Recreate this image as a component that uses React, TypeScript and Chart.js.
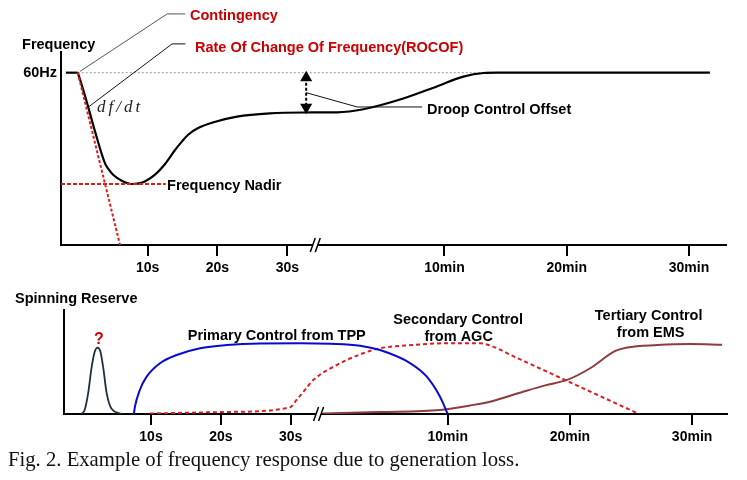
import React, { useEffect, useRef } from 'react';
import { Chart, registerables } from 'chart.js';

Chart.register(...registerables);

const SANS = '"Liberation Sans", Arial, Helvetica, sans-serif';

// shared time axis: seconds left of the break, compressed minutes right of it
const tickValues = [10, 20, 30, 52.5, 70, 87.5];
const tickLabels = ['10s', '20s', '30s', '10min', '20min', '30min'];
const breakAt = [34];

// ---- top panel: frequency (Hz) ----
const preX = [-1.7, 0];
const preY = [60, 60];
const freqX = [0, 0.6, 1.5, 2.5, 3.9, 4.4, 5.1, 6.3, 7.7, 9.2, 11.1, 12.5, 13.9, 14.9, 15.8, 17.3, 19.7, 22.8, 27.5, 32.3, 37.1, 40.9, 46.6, 51.4, 55.2, 58.1, 60, 90.5];
const freqY = [60, 59.925, 59.8, 59.655, 59.474, 59.44, 59.406, 59.373, 59.354, 59.362, 59.41, 59.47, 59.55, 59.6, 59.64, 59.68, 59.715, 59.745, 59.764, 59.769, 59.77, 59.788, 59.85, 59.92, 59.977, 59.998, 60, 60];
const refX = [0, 58];
const refY = [60, 60];
const rocofX = [0, 6.05];
const rocofY = [60, 59.0];
const nadirX = [-2.4, 12.6];
const nadirY = [59.354, 59.354];
const droopArrowX = [32.7, 32.7];
const droopArrowY = [59.971, 59.8];
const droopLeaderX = [32.7, 40, 49.3];
const droopLeaderY = [59.884, 59.801, 59.801];
const contLeaderX = [0.3, 12.8, 15.4];
const contLeaderY = [60.007, 60.341, 60.341];
const rocofLeaderX = [1.5, 13.5, 15.4];
const rocofLeaderY = [59.8, 60.167, 60.167];

// ---- bottom panel: spinning reserve (relative units) ----
const inertiaX = [0.05, 0.5, 1.0, 1.5, 1.95, 2.35, 2.75, 3.15, 3.65, 4.35, 5.8];
const inertiaY = [0, 3.8, 20, 45, 60, 63.8, 60, 45, 20, 5, 0];
const primaryX = [7.55, 7.7, 8.4, 9.38, 11.29, 13.68, 17.03, 20.86, 25.6, 31.35, 35.65, 39.95, 42.8, 47.1, 49.5, 51.4, 52.5];
const primaryY = [0, 7, 23.1, 35.9, 48.8, 56.7, 63.2, 66.3, 67.8, 68.0, 67.5, 65.7, 61.5, 49.0, 35.9, 16.6, 0];
const secondaryX = [9.85, 21.3, 29.9, 30.85, 32.05, 33.25, 36.6, 40.4, 42.8, 47.5, 52.35, 57.1, 58.55, 62, 70, 78, 79.9];
const secondaryY = [0.5, 2, 6.4, 13.5, 23.1, 32.7, 47.1, 58.4, 63.2, 66.3, 68.0, 68.0, 65.9, 55.25, 30.56, 5.86, 0];
const tertiaryX = [34.65, 42.8, 51.4, 55.7, 58.55, 63.3, 66.45, 69.7, 72.9, 76.5, 78.2, 82.5, 87.25, 91.8];
const tertiaryY = [0.5, 1.9, 3.8, 8.2, 11.8, 21.4, 27.5, 33, 44, 60.6, 64.0, 66.3, 67.3, 66.6];

const RED = '#d81e1e';
const TXT_RED = '#cc0000';

type Note = { x: number; y: number; text: string; color?: string; font?: string; align?: CanvasTextAlign; spacing?: string };

const topNotes: Note[] = [
  { x: -7.98, y: 60.161, text: 'Frequency', align: 'left' },
  { x: 16.07, y: 60.329, text: 'Contingency', color: TXT_RED, align: 'left' },
  { x: 16.78, y: 60.143, text: 'Rate Of Change Of Frequency(ROCOF)', color: TXT_RED, align: 'left' },
  { x: 2.75, y: 59.795, text: 'df/dt', font: 'italic 17px "Liberation Serif", "DejaVu Serif", serif', align: 'left', spacing: '3px', color: '#222' },
  { x: 50.0, y: 59.784, text: 'Droop Control Offset', align: 'left' },
  { x: 12.78, y: 59.342, text: 'Frequency Nadir', align: 'left' },
];

const bottomNotes: Note[] = [
  { x: -9.48, y: 110.6, text: 'Spinning Reserve', align: 'left' },
  { x: 2.55, y: 71.2, text: '?', color: TXT_RED, font: `bold 16px ${SANS}`, align: 'center' },
  { x: 28.01, y: 75, text: 'Primary Control from TPP', align: 'center' },
  { x: 53.99, y: 90.4, text: 'Secondary Control', align: 'center' },
  { x: 54.06, y: 74, text: 'from AGC', align: 'center' },
  { x: 81.28, y: 94.2, text: 'Tertiary Control', align: 'center' },
  { x: 81.57, y: 77.9, text: 'from EMS', align: 'center' },
];

function pts(xs: number[], ys: number[]) {
  return xs.map((x, i) => ({ x, y: ys[i] }));
}

function notesPlugin(notes: Note[], breaks: number[]) {
  return {
    id: 'notes',
    beforeDatasetsDraw(chart: any) {
      const { ctx, scales, chartArea } = chart;
      ctx.save();
      for (const b of breaks) {
        const px = scales.x.getPixelForValue(b);
        const py = chartArea.bottom;
        ctx.beginPath();
        ctx.moveTo(px - 5, py + 7);
        ctx.lineTo(px, py - 7);
        ctx.lineTo(px + 5, py - 7);
        ctx.lineTo(px, py + 7);
        ctx.closePath();
        ctx.fillStyle = '#fff';
        ctx.fill();
        ctx.beginPath();
        ctx.moveTo(px - 5, py + 7);
        ctx.lineTo(px, py - 7);
        ctx.moveTo(px, py + 7);
        ctx.lineTo(px + 5, py - 7);
        ctx.strokeStyle = '#000';
        ctx.lineWidth = 1.5;
        ctx.stroke();
      }
      ctx.restore();
    },
    afterDraw(chart: any) {
      const { ctx, scales } = chart;
      ctx.save();
      for (const n of notes) {
        const px = scales.x.getPixelForValue(n.x);
        const py = scales.y.getPixelForValue(n.y);
        ctx.font = n.font || `bold 14.5px ${SANS}`;
        ctx.fillStyle = n.color || '#000';
        ctx.textAlign = n.align || 'left';
        ctx.textBaseline = 'middle';
        (ctx as any).letterSpacing = n.spacing || '0px';
        ctx.fillText(n.text, px, py);
      }
      ctx.restore();
    },
  };
}

function xAxis(min: number, max: number, height: number) {
  return {
    type: 'linear' as const,
    min,
    max,
    afterBuildTicks: (s: any) => {
      s.ticks = tickValues.map((v) => ({ value: v }));
    },
    afterFit: (s: any) => {
      s.height = height;
    },
    ticks: {
      autoSkip: false,
      maxRotation: 0,
      padding: 4,
      color: '#000',
      font: { family: SANS, size: 14, weight: 'bold' as const },
      callback: (v: any) => {
        const i = tickValues.indexOf(Number(v));
        return i >= 0 ? tickLabels[i] : '';
      },
    },
    grid: { display: true, drawOnChartArea: false, drawTicks: true, tickLength: 11, color: '#000', lineWidth: 2 },
    border: { display: true, color: '#000', width: 2 },
  };
}

function line(xs: number[], ys: number[], color: string, width: number, extra: any = {}) {
  return {
    data: pts(xs, ys),
    borderColor: color,
    backgroundColor: color,
    borderWidth: width,
    pointRadius: 0,
    fill: false,
    tension: 0,
    ...extra,
  };
}

export default function App() {
  const topRef = useRef<HTMLCanvasElement>(null);
  const botRef = useRef<HTMLCanvasElement>(null);

  useEffect(() => {
    document.body.style.margin = '0';
    const top = new Chart(topRef.current!, {
      type: 'line',
      data: {
        datasets: [
          line(rocofX, rocofY, RED, 2, { borderDash: [3, 2] }),
          line(nadirX, nadirY, RED, 2, { borderDash: [4, 2] }),
          line(droopArrowX, droopArrowY, '#000', 2, {
            borderDash: [3, 2],
            pointRadius: 5,
            pointStyle: 'triangle',
            pointRotation: [0, 180],
            pointBackgroundColor: '#000',
            pointBorderColor: '#000',
          }),
          line(droopLeaderX, droopLeaderY, '#111', 1),
          line(contLeaderX, contLeaderY, '#555', 1, { clip: false }),
          line(rocofLeaderX, rocofLeaderY, '#111', 1, { clip: false }),
          line(freqX, freqY, '#000', 2.2, { cubicInterpolationMode: 'monotone' }),
          line(preX, preY, '#000', 2.2),
          line(refX, refY, '#9a9a9a', 1, { borderDash: [2, 2] }),
        ],
      },
      options: {
        responsive: false,
        animation: false,
        layout: { padding: { top: 52, right: 21, left: 0, bottom: 0 } },
        plugins: { legend: { display: false }, tooltip: { enabled: false } },
        scales: {
          x: xAxis(-2.4, 92.8, 35),
          y: {
            type: 'linear',
            min: 59,
            max: 60.12,
            afterBuildTicks: (s: any) => {
              s.ticks = [{ value: 60 }];
            },
            afterFit: (s: any) => {
              s.width = 61;
            },
            ticks: {
              padding: 4,
              color: '#000',
              font: { family: SANS, size: 14.5, weight: 'bold' },
              callback: () => '60Hz',
            },
            grid: { display: false, drawTicks: false },
            border: { display: true, color: '#000', width: 2 },
          },
        },
      },
      plugins: [notesPlugin(topNotes, breakAt)],
    } as any);

    const bottom = new Chart(botRef.current!, {
      type: 'line',
      data: {
        datasets: [
          line(primaryX, primaryY, '#0a0acd', 2, { cubicInterpolationMode: 'monotone' }),
          line(secondaryX, secondaryY, RED, 2, { cubicInterpolationMode: 'monotone', borderDash: [4, 3] }),
          line(tertiaryX, tertiaryY, '#8b3c3c', 2, { cubicInterpolationMode: 'monotone' }),
          line(inertiaX, inertiaY, '#1e3040', 1.8, { cubicInterpolationMode: 'monotone' }),
        ],
      },
      options: {
        responsive: false,
        animation: false,
        layout: { padding: { top: 30, right: 20, left: 0, bottom: 0 } },
        plugins: { legend: { display: false }, tooltip: { enabled: false } },
        scales: {
          x: xAxis(-2.46, 92.5, 36),
          y: {
            type: 'linear',
            min: 0,
            max: 100,
            afterFit: (s: any) => {
              s.width = 64;
            },
            ticks: { display: false },
            grid: { display: false, drawTicks: false },
            border: { display: true, color: '#000', width: 2 },
          },
        },
      },
      plugins: [notesPlugin(bottomNotes, breakAt)],
    } as any);

    return () => {
      top.destroy();
      bottom.destroy();
    };
  }, []);

  return (
    <div style={{ position: 'relative', width: 747, height: 480, background: '#fff', overflow: 'hidden' }}>
      <canvas ref={topRef} width={747} height={280} style={{ position: 'absolute', left: 0, top: 0 }} />
      <canvas ref={botRef} width={747} height={170} style={{ position: 'absolute', left: 0, top: 280 }} />
      <div
        style={{
          position: 'absolute',
          left: 8,
          top: 449,
          fontFamily: '"Liberation Serif", "Times New Roman", serif',
          fontSize: '20.7px',
          lineHeight: 1,
          whiteSpace: 'nowrap',
          color: '#111',
        }}
      >
        Fig. 2. Example of frequency response due to generation loss.
      </div>
    </div>
  );
}
